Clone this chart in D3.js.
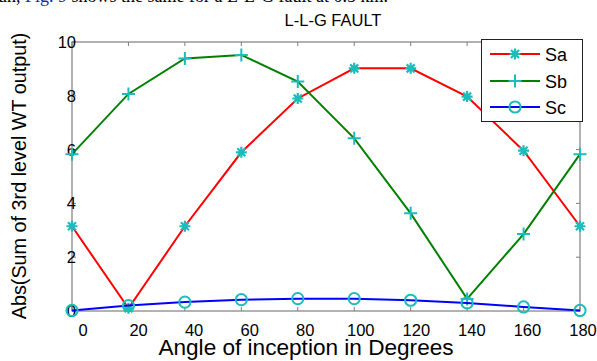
<!DOCTYPE html>
<html><head><meta charset="utf-8">
<script src="https://cdn.jsdelivr.net/npm/d3@7"></script>
<style>html,body{margin:0;padding:0;background:#fff;overflow:hidden}</style>
</head><body>
<svg id="c" width="597" height="361"></svg>
<script>
const angles = [0, 20, 40, 60, 80, 100, 120, 140, 160, 180];
const sa = [3.15, 0.1, 3.15, 5.9, 7.9, 9.02, 9.02, 7.97, 5.96, 3.15];
const sb = [5.83, 8.07, 9.39, 9.52, 8.53, 6.42, 3.63, 0.45, 2.86, 5.83];
const sc = [0.02, 0.2, 0.33, 0.42, 0.46, 0.46, 0.4, 0.3, 0.15, 0.02];
const xTicks = [0, 20, 40, 60, 80, 100, 120, 140, 160, 180];
const yTicks = [0, 2, 4, 6, 8, 10];
const seriesNames = ["Sa", "Sb", "Sc"];
const seriesColors = ["#ff0000", "#008000", "#0000ff"];
const markerTypes = ["star", "plus", "circle"];
const chartTitle = "L-L-G FAULT";
const xTitle = "Angle of inception in Degrees";
const yTitle = "Abs(Sum of 3rd level WT output)";

const svg = d3.select("#c");
const L = 72, R = 580, T = 42, B = 311;
const x = d3.scaleLinear().domain([0, 180]).range([L, R]);
const xl = d3.scaleLinear().domain([0, 180]).range([83, 583]);
const y = d3.scaleLinear().domain([0, 10]).range([B, T]);
const mk = "#1cbcbc";
const font = "Liberation Sans, Arial, sans-serif";

// clipped paper text at top
const paper = svg.append("text").attr("x", -2).attr("y", 1.5)
  .attr("font-family", "Liberation Serif, Times New Roman, serif").attr("font-size", 18).attr("fill", "#000");
paper.append("tspan").text("un, ");
paper.append("tspan").attr("fill", "#1a2ea0").text("Fig. 9");
paper.append("tspan").text(" shows the same for a L-L-G fault at 0.5 km.");

// frame
svg.append("rect").attr("x", L).attr("y", T).attr("width", R - L).attr("height", B - T)
  .attr("fill", "none").attr("stroke", "#7f7f7f").attr("stroke-width", 1.2);

// ticks (inward, all sides)
const tg = svg.append("g").attr("stroke", "#7f7f7f").attr("stroke-width", 1);
xTicks.forEach(v => {
  tg.append("line").attr("x1", x(v)).attr("x2", x(v)).attr("y1", B).attr("y2", B - 4);
  tg.append("line").attr("x1", x(v)).attr("x2", x(v)).attr("y1", T).attr("y2", T + 4);
});
yTicks.forEach(v => {
  tg.append("line").attr("x1", L).attr("x2", L + 4).attr("y1", y(v)).attr("y2", y(v));
  tg.append("line").attr("x1", R).attr("x2", R - 4).attr("y1", y(v)).attr("y2", y(v));
});

// tick labels
svg.append("g").selectAll("text").data(xTicks).join("text")
  .attr("x", d => xl(d)).attr("y", 336).attr("text-anchor", "middle")
  .attr("font-family", font).attr("font-size", 16.5).text(d => d);
svg.append("g").selectAll("text").data(yTicks).join("text")
  .attr("x", 76).attr("y", d => y(d) + 6).attr("text-anchor", "end")
  .attr("font-family", font).attr("font-size", 16.5).text(d => d);

// titles
svg.append("text").attr("x", 333).attr("y", 26).attr("text-anchor", "middle")
  .attr("font-family", font).attr("font-size", 16.5).text(chartTitle);
svg.append("text").attr("x", 306).attr("y", 355).attr("text-anchor", "middle")
  .attr("font-family", font).attr("font-size", 22.6).text(xTitle);
svg.append("text").attr("transform", "translate(26,176) rotate(-90)").attr("text-anchor", "middle")
  .attr("font-family", font).attr("font-size", 19.8).text(yTitle);

function markerPath(type) {
  if (type === "star") {
    const s = 5.5, a = 4;
    return `M${-s},0L${s},0M0,${-s}L0,${s}M${-a},${-a}L${a},${a}M${-a},${a}L${a},${-a}`;
  }
  if (type === "plus") {
    const s = 6.5;
    return `M${-s},0L${s},0M0,${-s}L0,${s}`;
  }
  return null;
}
function drawMarker(g, type, cx, cy) {
  if (type === "circle") {
    g.append("circle").attr("cx", cx).attr("cy", cy).attr("r", 5.6)
      .attr("fill", "none").attr("stroke", mk).attr("stroke-width", 2);
  } else {
    g.append("path").attr("transform", `translate(${cx},${cy})`).attr("d", markerPath(type))
      .attr("fill", "none").attr("stroke", mk).attr("stroke-width", type === "star" ? 2.2 : 2);
  }
}

const data = [sa, sb, sc];
const line = d3.line().x((d, i) => x(angles[i])).y(d => y(d));
data.forEach((vals, k) => {
  svg.append("path").datum(vals).attr("d", line).attr("fill", "none")
    .attr("stroke", seriesColors[k]).attr("stroke-width", 2);
  const g = svg.append("g");
  vals.forEach((v, i) => drawMarker(g, markerTypes[k], x(angles[i]), y(v)));
});

// legend
const lg = svg.append("g");
lg.append("rect").attr("x", 481.5).attr("y", 39.5).attr("width", 101).attr("height", 82)
  .attr("fill", "#fff").attr("stroke", "#222").attr("stroke-width", 1);
const ly = [54, 81, 107];
seriesNames.forEach((n, k) => {
  lg.append("line").attr("x1", 490).attr("x2", 540).attr("y1", ly[k]).attr("y2", ly[k])
    .attr("stroke", seriesColors[k]).attr("stroke-width", 2);
  drawMarker(lg, markerTypes[k], 515, ly[k]);
  lg.append("text").attr("x", 545).attr("y", ly[k] + 6.5).attr("font-family", font)
    .attr("font-size", 18).text(n);
});
</script>
</body></html>
